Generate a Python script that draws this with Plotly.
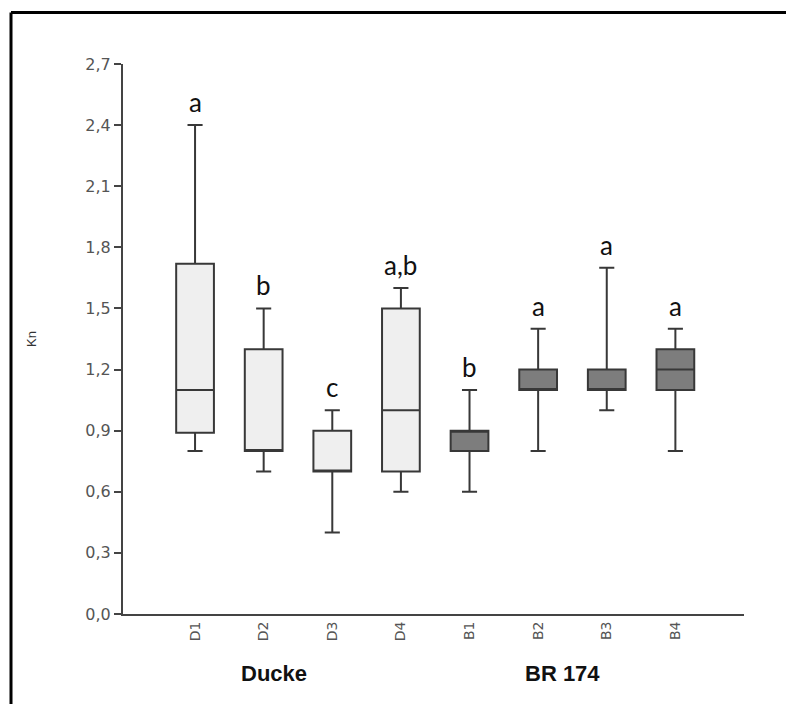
import plotly.graph_objects as go

categories = ["D1", "D2", "D3", "D4", "B1", "B2", "B3", "B4"]
lower = [0.80, 0.70, 0.40, 0.60, 0.60, 0.80, 1.00, 0.80]
q1 = [0.89, 0.80, 0.70, 0.70, 0.80, 1.10, 1.10, 1.10]
median = [1.10, 0.80, 0.70, 1.00, 0.90, 1.10, 1.10, 1.20]
q3 = [1.72, 1.30, 0.90, 1.50, 0.90, 1.20, 1.20, 1.30]
upper = [2.40, 1.50, 1.00, 1.60, 1.10, 1.40, 1.70, 1.40]
letters = ["a", "b", "c", "a,b", "b", "a", "a", "a"]
groups = ["Ducke", "BR 174"]
group_x = [1.15, 5.35]
ytick_vals = [0.0, 0.3, 0.6, 0.9, 1.2, 1.5, 1.8, 2.1, 2.4, 2.7]
ytick_text = ["0,0", "0,3", "0,6", "0,9", "1,2", "1,5", "1,8", "2,1", "2,4", "2,7"]

fig = go.Figure()
fills = ["#efefef"] * 4 + ["#7d7d7d"] * 4
for i, c in enumerate(categories):
    fig.add_trace(go.Box(
        x=[i], q1=[q1[i]], median=[median[i]], q3=[q3[i]],
        lowerfence=[lower[i]], upperfence=[upper[i]],
        fillcolor=fills[i], line=dict(color="#383838", width=2),
        width=0.55, whiskerwidth=0.4, showlegend=False, boxpoints=False,
    ))

for i, t in enumerate(letters):
    fig.add_annotation(x=i, y=upper[i], text=t, showarrow=False,
                       yanchor="bottom", yshift=5,
                       font=dict(family="Lato", size=26, color="#111"))

for g, gx in zip(groups, group_x):
    fig.add_annotation(x=gx, y=-0.135, xref="x", yref="paper", text="<b>%s</b>" % g,
                       showarrow=False, font=dict(family="Liberation Sans", size=22, color="#111"))

# outer frame (top and left)
fig.add_shape(type="line", xref="paper", yref="paper",
              x0=(11 - 123) / 621, x1=(790 - 123) / 621,
              y0=(614 - 12.5) / 550, y1=(614 - 12.5) / 550,
              line=dict(color="black", width=3))
fig.add_shape(type="line", xref="paper", yref="paper",
              x0=(11 - 123) / 621, x1=(11 - 123) / 621,
              y0=(614 - 12.5) / 550, y1=(614 - 710) / 550,
              line=dict(color="black", width=3))

fig.update_layout(
    width=786, height=704,
    margin=dict(l=123, r=42, t=64, b=90),
    paper_bgcolor="white", plot_bgcolor="white",
    xaxis=dict(range=[-1.05, 8.0], tickmode="array", tickvals=list(range(8)),
               ticktext=categories, tickangle=-90, showgrid=False, zeroline=False,
               showline=True, linecolor="#444", linewidth=2, ticks="",
               tickfont=dict(family="DejaVu Sans", size=14, color="#555")),
    yaxis=dict(range=[0, 2.7], tickmode="array", tickvals=ytick_vals, ticktext=ytick_text,
               showgrid=False, zeroline=False, showline=True, linecolor="#444", linewidth=2,
               ticks="outside", ticklen=7, tickwidth=2, tickcolor="#444",
               tickfont=dict(family="DejaVu Sans", size=16, color="#555"),
               title=dict(text="Kn", font=dict(family="Liberation Sans", size=13, color="#333"), standoff=46)),
)

fig.write_html("out.html")
